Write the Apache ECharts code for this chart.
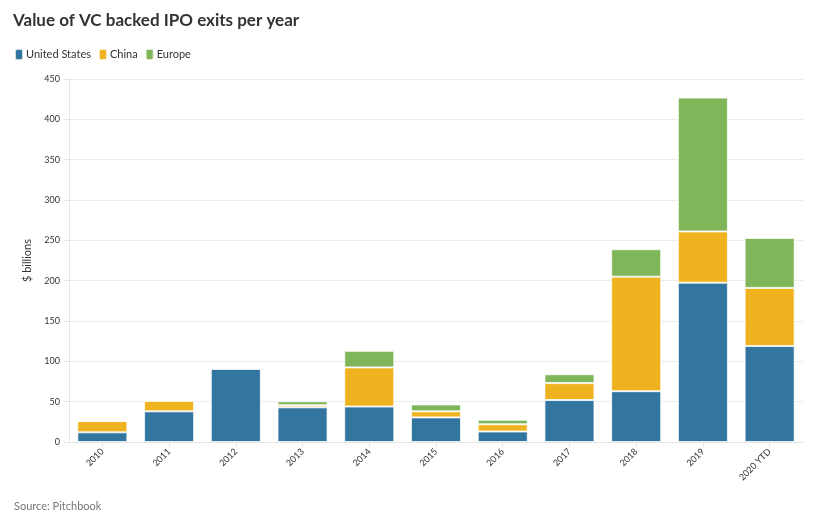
<!DOCTYPE html>
<html><head><meta charset="utf-8">
<script src="https://cdn.jsdelivr.net/npm/echarts@6/dist/echarts.min.js"></script>
<style>html,body{margin:0;padding:0;background:#fff}#c{width:820px;height:525px}</style>
</head><body><div id="c"></div>
<script>
var categories = ['2010','2011','2012','2013','2014','2015','2016','2017','2018','2019','2020 YTD'];
var unitedStates = [12, 38, 90.5, 43, 44, 30.5, 13, 52, 63, 197.5, 119];
var china = [14, 13, 1.5, 2.5, 48.5, 7.5, 9, 21, 142, 63.5, 72];
var europe = [0, 0, 0, 5, 20.5, 8.5, 5.5, 11, 34, 166, 62];
var yTicks = [0, 50, 100, 150, 200, 250, 300, 350, 400, 450];

var FONT = 'Lato, "Noto Sans", sans-serif';
var chart = echarts.init(document.getElementById('c'));
function ser(name, data, color) {
  return {
    name: name, type: 'bar', stack: 'total', data: data,
    barCategoryGap: '25%',
    itemStyle: { color: color, borderColor: 'rgba(255,255,255,0.75)', borderWidth: 1 }
  };
}
chart.setOption({
  animation: false,
  textStyle: { fontFamily: FONT },
  title: {
    text: 'Value of VC backed IPO exits per year', left: 13, top: 12, padding: 0,
    textStyle: { fontSize: 17, fontWeight: 'bold', color: '#333', fontFamily: FONT }
  },
  legend: {
    left: 14, top: 48, padding: 0, itemWidth: 8, itemHeight: 11, itemGap: 7,
    icon: 'roundRect',
    textStyle: { fontSize: 11, color: '#333', fontFamily: FONT, padding: [0, 0, 0, -2] },
    data: ['United States', 'China', 'Europe']
  },
  graphic: [{
    type: 'text', left: 14, top: 501,
    style: { text: 'Source: Pitchbook', fill: '#777', fontSize: 11, fontFamily: FONT }
  }],
  grid: { left: 69, right: 17, top: 79, bottom: 83, containLabel: false },
  xAxis: {
    type: 'category', data: categories,
    axisLine: { show: true, lineStyle: { color: '#e6e6e6' } },
    axisTick: { show: true, alignWithLabel: true, length: 5, lineStyle: { color: '#e6e6e6' } },
    axisLabel: { rotate: 45, fontSize: 9, color: '#333', margin: 8, fontFamily: FONT }
  },
  yAxis: {
    type: 'value', min: 0, max: 450, interval: 50,
    name: '$ billions', nameLocation: 'middle', nameGap: 28, nameRotate: 90,
    nameTextStyle: { fontSize: 11, color: '#333', fontFamily: FONT },
    axisLine: { show: true, lineStyle: { color: '#e6e6e6' } },
    axisTick: { show: true, length: 5, lineStyle: { color: '#e6e6e6' } },
    splitLine: { lineStyle: { color: '#ececec' } },
    axisLabel: {
      fontSize: 9, color: '#333', margin: 9, fontFamily: FONT,
      formatter: function (v) { return yTicks.indexOf(v) >= 0 ? String(v) : ''; }
    }
  },
  series: [
    ser('United States', unitedStates, '#3276a0'),
    ser('China', china, '#eeb31f'),
    ser('Europe', europe, '#80b65a')
  ]
});
</script></body></html>
